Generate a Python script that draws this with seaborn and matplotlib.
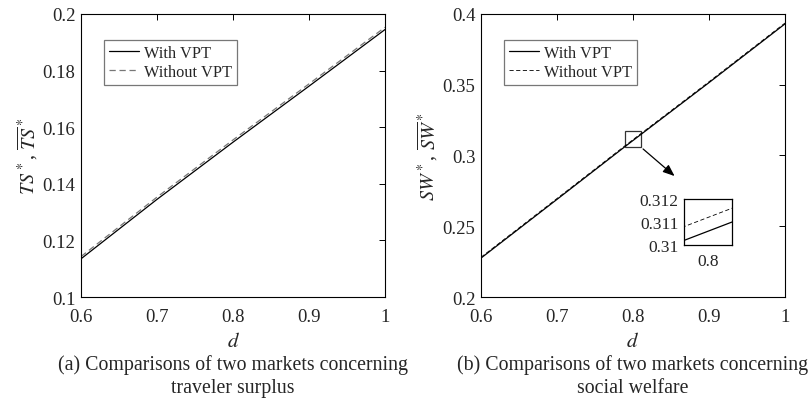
import matplotlib
matplotlib.use("Agg")
import matplotlib.pyplot as plt
import seaborn as sns
import pandas as pd
from matplotlib.patches import Rectangle

# ---- data ----
d_ts = [0.6, 0.7, 0.8, 0.9, 1.0]
ts_with = [0.1135, 0.1345, 0.1547, 0.1745, 0.1945]
ts_without = [0.1143, 0.1353, 0.1555, 0.1753, 0.1953]

d_sw = [0.6, 0.7, 0.79, 0.799, 0.8, 0.801, 0.81, 0.9, 1.0]
sw_with = [0.2275, 0.2690, 0.3065, 0.3102, 0.3106, 0.3110, 0.3147, 0.3515, 0.3930]
sw_without = [0.2281, 0.2696, 0.3071, 0.3108, 0.3112, 0.3116, 0.3153, 0.3521, 0.3936]

labels = ["With VPT", "Without VPT"]
captions = ["(a) Comparisons of two markets concerning\ntraveler surplus",
            "(b) Comparisons of two markets concerning\nsocial welfare"]
ylabels = [r"$TS^*$, $\overline{TS}^*$", r"$SW^*$, $\overline{SW}^*$"]

sns.set_style("white")
plt.rcParams["font.family"] = ["Liberation Serif", "DejaVu Serif"]
plt.rcParams["mathtext.fontset"] = "stix"
plt.rcParams["axes.linewidth"] = 0.8

fig = plt.figure(figsize=(8.11, 4.02), dpi=100)
ax1 = fig.add_axes([0.0999, 0.2587, 0.3748, 0.704])
ax2 = fig.add_axes([0.5931, 0.2587, 0.3748, 0.704])

tc = "#262626"
fs = 13.5


def style_axes(ax, ylim, yticks):
    ax.set_xlim(0.6, 1.0)
    ax.set_ylim(*ylim)
    ax.set_xticks([0.6, 0.7, 0.8, 0.9, 1.0])
    ax.set_xticklabels(["0.6", "0.7", "0.8", "0.9", "1"])
    ax.set_yticks(yticks)
    ax.set_yticklabels([("%g" % v) for v in yticks])
    ax.tick_params(direction="in", length=4, width=0.7, top=True, right=True,
                   labelsize=fs, colors="black", labelcolor=tc, pad=4)
    ax.tick_params(axis="x", pad=8)
    for s in ax.spines.values():
        s.set_color("black")
        s.set_linewidth(0.8)
    ax.set_xlabel(r"$d$", fontsize=fs + 1.5, color=tc, labelpad=5)


# left panel
df_ts = pd.DataFrame({"d": d_ts + d_ts, "v": ts_with + ts_without,
                      "s": [labels[0]] * len(d_ts) + [labels[1]] * len(d_ts)})
sns.lineplot(data=df_ts[df_ts.s == labels[0]], x="d", y="v", ax=ax1,
             color="black", lw=0.9, label=labels[0])
sns.lineplot(data=df_ts[df_ts.s == labels[1]], x="d", y="v", ax=ax1,
             color="#777777", lw=0.9, ls=(0, (5, 3)), label=labels[1])
style_axes(ax1, (0.1, 0.2), [0.1, 0.12, 0.14, 0.16, 0.18, 0.2])
ax1.set_ylabel(ylabels[0], fontsize=fs + 1, color=tc, labelpad=2)

# right panel
df_sw = pd.DataFrame({"d": d_sw + d_sw, "v": sw_with + sw_without,
                      "s": [labels[0]] * len(d_sw) + [labels[1]] * len(d_sw)})
sns.lineplot(data=df_sw[df_sw.s == labels[0]], x="d", y="v", ax=ax2,
             color="black", lw=0.9, label=labels[0])
sns.lineplot(data=df_sw[df_sw.s == labels[1]], x="d", y="v", ax=ax2,
             color="black", lw=0.6, ls=(0, (5, 3)), label=labels[1])
style_axes(ax2, (0.2, 0.4), [0.2, 0.25, 0.3, 0.35, 0.4])
ax2.set_ylabel(ylabels[1], fontsize=fs + 1, color=tc, labelpad=2)

for ax in (ax1, ax2):
    leg = ax.legend(loc="upper left", bbox_to_anchor=(0.076, 0.908),
                    fontsize=11.8, frameon=True, fancybox=False,
                    handlelength=1.8, handletextpad=0.35, borderpad=0.3,
                    labelspacing=0.2, borderaxespad=0)
    leg.get_frame().set_edgecolor("#555555")
    leg.get_frame().set_linewidth(0.9)
    for t in leg.get_texts():
        t.set_color(tc)

# captions
for ax, cap in zip((ax1, ax2), captions):
    ax.text(0.5, -0.2, cap, transform=ax.transAxes, ha="center", va="top",
            fontsize=14.3, color=tc, linespacing=1.3)

# zoom rectangle and arrow
ax2.add_patch(Rectangle((0.790, 0.3059), 0.0205, 0.0117, fill=False,
                        edgecolor="#333333", lw=0.9))
ax2.annotate("", xy=(0.8575, 0.2842), xytext=(0.8105, 0.3059),
             arrowprops=dict(arrowstyle="-|>,head_length=0.7,head_width=0.28",
                             color="black", lw=0.9))

# inset
axin = fig.add_axes([0.8434, 0.388, 0.0592, 0.1144])
sns.lineplot(x=d_sw, y=sw_with, ax=axin, color="black", lw=0.9)
sns.lineplot(x=d_sw, y=sw_without, ax=axin, color="black", lw=0.6, ls=(0, (5, 3)))
axin.set_xlim(0.799, 0.801)
axin.set_ylim(0.31, 0.312)
axin.set_xticks([0.8])
axin.set_xticklabels(["0.8"])
axin.set_yticks([0.31, 0.311, 0.312])
axin.set_yticklabels(["0.31", "0.311", "0.312"])
axin.tick_params(direction="in", length=3, width=0.7, labelsize=12.5,
                 labelcolor=tc, pad=4)
axin.tick_params(axis="x", pad=6)
axin.set_xlabel("")
axin.set_ylabel("")
for s in axin.spines.values():
    s.set_color("black")
    s.set_linewidth(0.9)

fig.savefig("out.png", dpi=100)
